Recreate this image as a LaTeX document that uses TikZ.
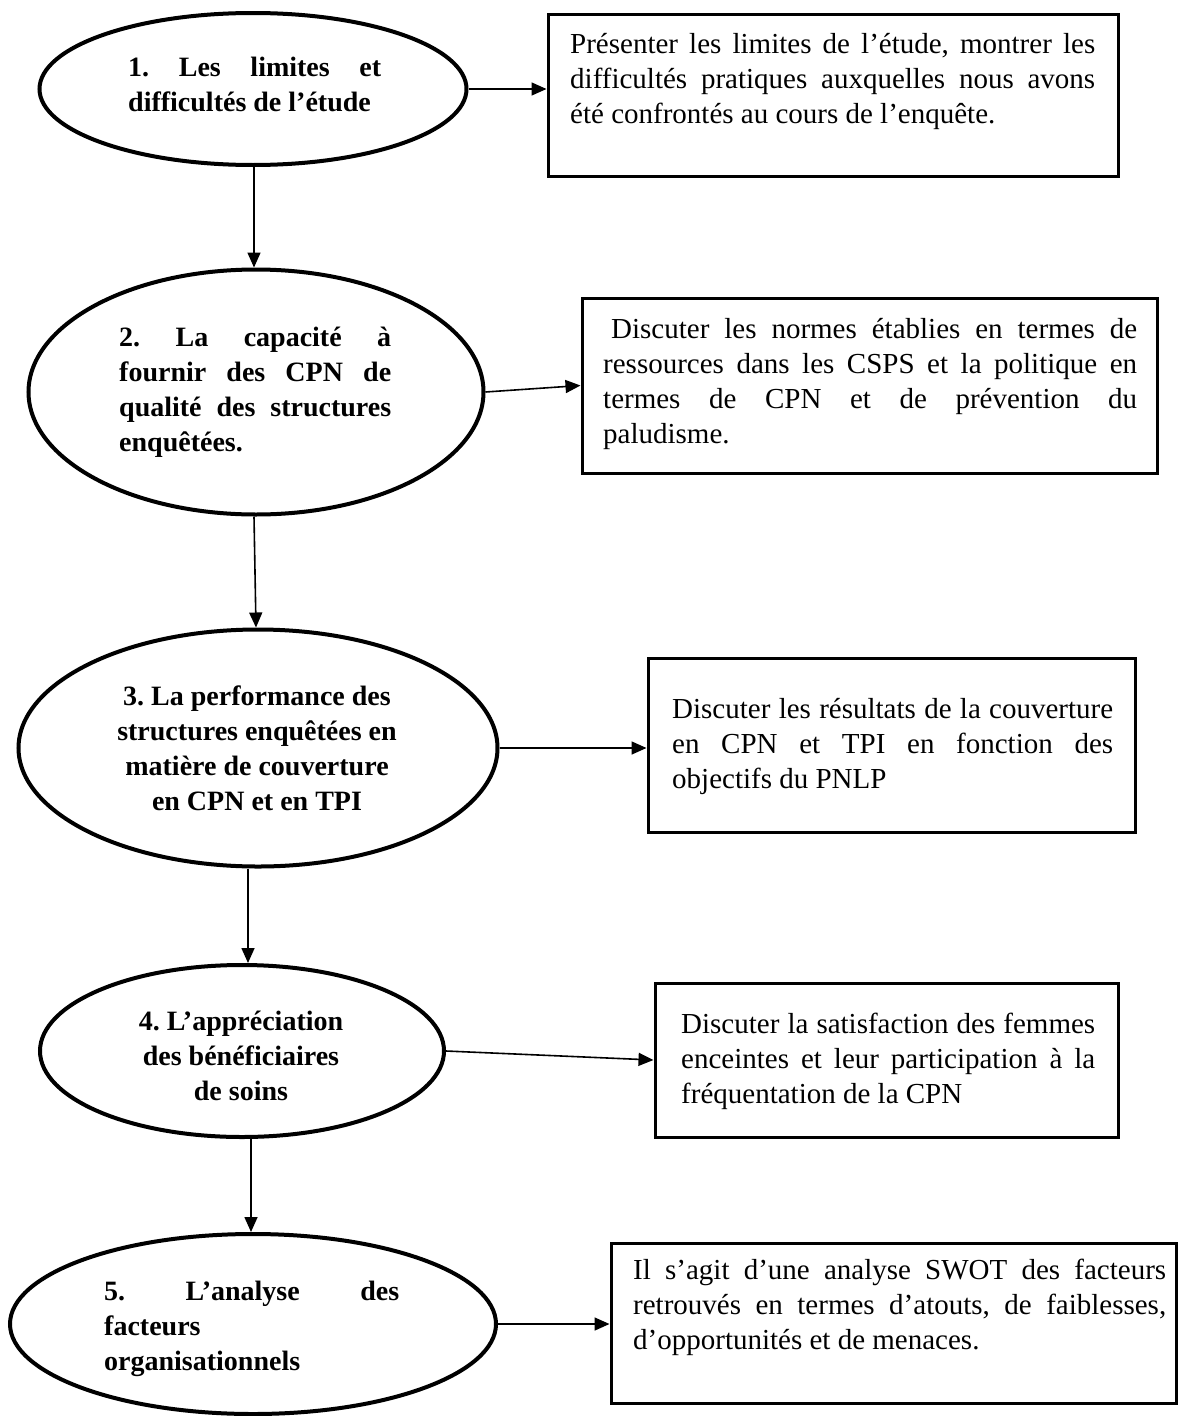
\documentclass[tikz,border=0pt]{standalone}
\usepackage{fontspec}
\setmainfont{Liberation Serif}
\usetikzlibrary{shapes.geometric,arrows.meta}
\newcommand{\JLine}[2]{\makebox[#1][s]{#2}}
\frenchspacing
\begin{document}
\begin{tikzpicture}[x=1pt,y=-1pt,
  oval/.style={draw, ellipse, line width=4pt, inner sep=0pt},
  boxnode/.style={draw, rectangle, line width=3pt, inner sep=0pt},
  txt/.style={inner sep=0pt, anchor=north west, align=left, font=\fontsize{29}{35}\selectfont},
  btxt/.style={inner sep=0pt, anchor=north west, align=left, font=\bfseries\fontsize{28}{35}\selectfont},
  ctxt/.style={inner sep=0pt, anchor=north, align=center, font=\bfseries\fontsize{28}{35}\selectfont},
  arr/.style={line width=1.6pt, -{Triangle[length=15pt,width=13pt]}}]
\useasboundingbox (0,0) rectangle (1178,1416);
\fill[white] (0,0) rectangle (1178,1416);

% ellipses
\node[oval, minimum width=427pt, minimum height=152pt] (e1) at (253,89) {};
\node[oval, minimum width=455pt, minimum height=245pt] (e2) at (256,392) {};
\node[oval, minimum width=479pt, minimum height=237pt] (e3) at (258,748) {};
\node[oval, minimum width=404pt, minimum height=172pt] (e4) at (242,1051) {};
\node[oval, minimum width=486pt, minimum height=180pt] (e5) at (253,1324) {};

% boxes
\node[boxnode, minimum width=570pt, minimum height=162pt] (b1) at (833,95) {};
\node[boxnode, minimum width=575pt, minimum height=175pt] (b2) at (869.5,385.5) {};
\node[boxnode, minimum width=487pt, minimum height=174pt] (b3) at (891.5,745) {};
\node[boxnode, minimum width=463pt, minimum height=154pt] (b4) at (886.5,1060) {};
\node[boxnode, minimum width=565pt, minimum height=160pt] (b5) at (893.5,1323) {};

% ellipse texts
\node[btxt] (t1) at (128,57) {\JLine{253pt}{1. Les limites et}\\difficultés de l’étude};
\node[btxt] (t2) at (119,327) {\JLine{272pt}{2. La capacité à}\\\JLine{272pt}{fournir des CPN de}\\\JLine{272pt}{qualité des structures}\\enquêtées.};
\node[ctxt] (t3) at (257,686) {3. La performance des\\structures enquêtées en\\matière de couverture\\en CPN et en TPI};
\node[ctxt] (t4) at (241,1011) {4. L’appréciation\\des bénéficiaires\\de soins};
\node[btxt] (t5) at (104,1281) {\JLine{295pt}{5. L’analyse des}\\facteurs\\organisationnels};

% box texts
\node[txt] (s1) at (570,33) {\JLine{525pt}{Présenter les limites de l’étude, montrer les}\\\JLine{525pt}{difficultés pratiques auxquelles nous avons}\\été confrontés au cours de l’enquête.};
\node[txt] (s2) at (603,318) {\hspace*{8pt}\JLine{526pt}{Discuter les normes établies en termes de}\\\JLine{534pt}{ressources dans les CSPS et la politique en}\\\JLine{534pt}{termes de CPN et de prévention du}\\paludisme.};
\node[txt] (s3) at (672,698) {\JLine{441pt}{Discuter les résultats de la couverture}\\\JLine{441pt}{en CPN et TPI en fonction des}\\objectifs du PNLP};
\node[txt] (s4) at (681,1013) {\JLine{414pt}{Discuter la satisfaction des femmes}\\\JLine{414pt}{enceintes et leur participation à la}\\fréquentation de la CPN};
\node[txt] (s5) at (633,1259) {\JLine{533pt}{Il s’agit d’une analyse SWOT des facteurs}\\\JLine{533pt}{retrouvés en termes d’atouts, de faiblesses,}\\d’opportunités et de menaces.};

% horizontal connectors
\draw[arr] (e1.east) -- (e1.east -| b1.west);
\draw[arr] (e2.east) -- (b2.west);
\draw[arr] (e3.east) -- (e3.east -| b3.west);
\draw[arr] (e4.east) -- (b4.west);
\draw[arr] (e5.east) -- (e5.east -| b5.west);

% vertical connectors
\draw[arr] ([xshift=1pt]e1.south) -- ([xshift=-2pt]e2.north);
\draw[arr] ([xshift=-2pt]e2.south) -- (e2.south |- e3.north);
\draw[arr] ([xshift=-10pt]e3.south) -- ([xshift=6pt]e4.north);
\draw[arr] ([xshift=9pt]e4.south) -- ([xshift=-2pt]e5.north);
\end{tikzpicture}
\end{document}
